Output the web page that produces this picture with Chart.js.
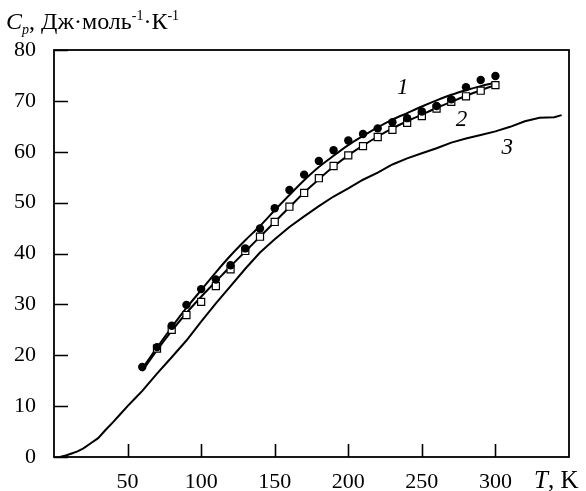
<!DOCTYPE html>
<html>
<head>
<meta charset="utf-8">
<script src="https://cdn.jsdelivr.net/npm/chart.js@4/dist/chart.umd.min.js"></script>
<style>
  body { margin: 0; background: #fff; }
  #wrap { width: 586px; height: 491px; }
</style>
</head>
<body>
<div id="wrap"><canvas id="heatCapacity" width="586" height="491"></canvas></div>
<script>
// temperature grid for smoothed curves 1 and 2
const tSmooth = [60, 70, 80, 90, 100, 110, 120, 130, 140, 150, 160, 170, 180, 190, 200, 210, 220, 230, 240, 250, 260, 270, 280, 290, 300]
const curve1 = [17.4, 21.5, 25.5, 29.3, 32.8, 36.3, 39.6, 42.6, 45.4, 48.5, 51.5, 54.4, 57.0, 59.2, 61.3, 63.1, 64.8, 66.3, 67.6, 68.9, 70.1, 71.2, 72.1, 72.9, 73.6]
const curve2 = [16.9, 21.0, 24.8, 28.3, 31.5, 34.5, 37.5, 40.4, 43.3, 46.2, 49.1, 52.0, 54.6, 57.1, 59.3, 61.2, 63.0, 64.6, 66.0, 67.3, 68.6, 69.8, 71.0, 72.1, 73.1]

// curve 3
const tCurve3 = [4, 8, 12, 16, 20, 25, 30, 35, 40, 45, 50, 55, 60, 70, 80, 90, 100, 110, 120, 130, 140, 150, 160, 170, 180, 190, 200, 210, 220, 230, 240, 250, 260, 270, 280, 290, 300, 310, 320, 330, 340, 345]
const curve3 = [0, 0.3, 0.7, 1.1, 1.7, 2.7, 3.7, 5.3, 6.8, 8.4, 10.0, 11.5, 13.0, 16.4, 19.6, 22.9, 26.6, 30.2, 33.6, 37.0, 40.2, 42.8, 45.2, 47.3, 49.3, 51.2, 52.8, 54.5, 55.9, 57.5, 58.7, 59.7, 60.7, 61.8, 62.6, 63.3, 64.0, 64.9, 66.0, 66.7, 66.8, 67.2]

// experimental points
const tCircles = [60, 70, 80, 90, 100, 110, 120, 130, 140, 150, 160, 170, 180, 190, 200, 210, 220, 230, 240, 250, 260, 270, 280, 290, 300]
const circles = [17.7, 21.6, 25.8, 29.9, 33.0, 34.9, 37.7, 41.0, 44.9, 48.9, 52.5, 55.5, 58.2, 60.3, 62.2, 63.5, 64.6, 65.8, 66.6, 67.9, 69.0, 70.3, 72.7, 74.1, 74.9]
const tSquares = [70, 80, 90, 100, 110, 120, 130, 140, 150, 160, 170, 180, 190, 200, 210, 220, 230, 240, 250, 260, 270, 280, 290, 300]
const squares = [21.3, 25.0, 27.9, 30.5, 33.6, 36.9, 40.5, 43.3, 46.2, 49.2, 51.9, 54.8, 57.2, 59.3, 61.1, 62.9, 64.3, 65.7, 67.0, 68.5, 69.8, 70.9, 72.0, 73.1]

const xTicks = [50, 100, 150, 200, 250, 300]
const yTicks = [0, 10, 20, 30, 40, 50, 60, 70, 80]

// curve numbers, placed in data coordinates
const curveNames = ['1', '2', '3']
const curveNameT = [237, 277, 308]
const curveNameCp = [72.5, 66.2, 60.7]

const FONT = '"Liberation Serif", "Times New Roman", serif'

const toXY = (xs, ys) => xs.map((t, i) => ({ x: t, y: ys[i] }))

// frame, inward ticks and axis texts
const decor = {
  id: 'decor',
  afterDraw(chart) {
    const ctx = chart.ctx
    const a = chart.chartArea
    const { x, y } = chart.scales
    ctx.save()
    ctx.strokeStyle = '#000'
    ctx.lineWidth = 1.8
    ctx.strokeRect(a.left, a.top, a.right - a.left, a.bottom - a.top)

    ctx.lineWidth = 1.6
    ctx.beginPath()
    yTicks.forEach(v => {
      const py = Math.round(y.getPixelForValue(v)) + 0.5
      ctx.moveTo(a.left, py)
      ctx.lineTo(a.left + 14, py)
    })
    xTicks.forEach(v => {
      const px = Math.round(x.getPixelForValue(v)) + 0.5
      ctx.moveTo(px, a.bottom)
      ctx.lineTo(px, a.bottom - 13)
    })
    ctx.stroke()

    ctx.fillStyle = '#000'
    ctx.textBaseline = 'alphabetic'
    ctx.textAlign = 'left'

    // title: Cp, Дж·моль-1·К-1
    let cx = 6
    const base = 29
    const put = (txt, font, dy) => {
      ctx.font = font
      ctx.fillText(txt, cx, base + dy)
      cx += ctx.measureText(txt).width
    }
    put('C', 'italic 24px ' + FONT, 0)
    put('p', 'italic 14px ' + FONT, 5)
    put(', Дж·моль', '24px ' + FONT, 0)
    put('-1', '14px ' + FONT, -9)
    put('·К', '24px ' + FONT, 0)
    put('-1', '14px ' + FONT, -9)

    // x title: T, K
    cx = 534
    const put2 = (txt, font) => {
      ctx.font = font
      ctx.fillText(txt, cx, 488)
      cx += ctx.measureText(txt).width
    }
    put2('T', 'italic 25px ' + FONT)
    put2(', K', '25px ' + FONT)

    // curve numbers
    ctx.font = 'italic 23px ' + FONT
    ctx.textAlign = 'center'
    ctx.textBaseline = 'middle'
    curveNames.forEach((n, i) => {
      ctx.fillText(n, x.getPixelForValue(curveNameT[i]), y.getPixelForValue(curveNameCp[i]))
    })
    ctx.restore()
  }
}

const lineStyle = {
  showLine: true,
  borderColor: '#000',
  borderWidth: 2,
  pointRadius: 0,
  fill: false
}

new Chart(document.querySelector('#heatCapacity'), {
  type: 'scatter',
  data: {
    datasets: [
      {
        label: 'points 1',
        data: toXY(tCircles, circles),
        pointStyle: 'circle',
        pointRadius: 4.2,
        backgroundColor: '#000',
        borderColor: '#000',
        borderWidth: 0,
        order: 0
      },
      {
        label: 'points 2',
        data: toXY(tSquares, squares),
        pointStyle: 'rect',
        pointRadius: 5,
        backgroundColor: '#fff',
        borderColor: '#000',
        borderWidth: 1.2,
        order: 1
      },
      { ...lineStyle, label: '1', data: toXY(tSmooth, curve1), cubicInterpolationMode: 'monotone', order: 2 },
      { ...lineStyle, label: '2', data: toXY(tSmooth, curve2), cubicInterpolationMode: 'monotone', order: 3 },
      { ...lineStyle, label: '3', data: toXY(tCurve3, curve3), tension: 0, order: 4 }
    ]
  },
  options: {
    responsive: false,
    animation: false,
    layout: { padding: { left: 0, top: 50, right: 17, bottom: 0 } },
    plugins: {
      legend: { display: false },
      tooltip: { enabled: false }
    },
    scales: {
      x: {
        type: 'linear',
        min: 0,
        max: 350,
        grid: { display: false, drawTicks: false },
        border: { display: false },
        afterBuildTicks: scale => { scale.ticks = xTicks.map(v => ({ value: v })) },
        afterFit: scale => { scale.height = 34 },
        ticks: {
          padding: 12,
          color: '#000',
          maxRotation: 0,
          font: { family: FONT, size: 22 }
        }
      },
      y: {
        min: 0,
        max: 80,
        grid: { display: false, drawTicks: false },
        border: { display: false },
        afterBuildTicks: scale => { scale.ticks = yTicks.map(v => ({ value: v })) },
        afterFit: scale => { scale.width = 54 },
        ticks: {
          padding: 18,
          color: '#000',
          font: { family: FONT, size: 22 }
        }
      }
    }
  },
  plugins: [decor]
})
</script>
</body>
</html>
